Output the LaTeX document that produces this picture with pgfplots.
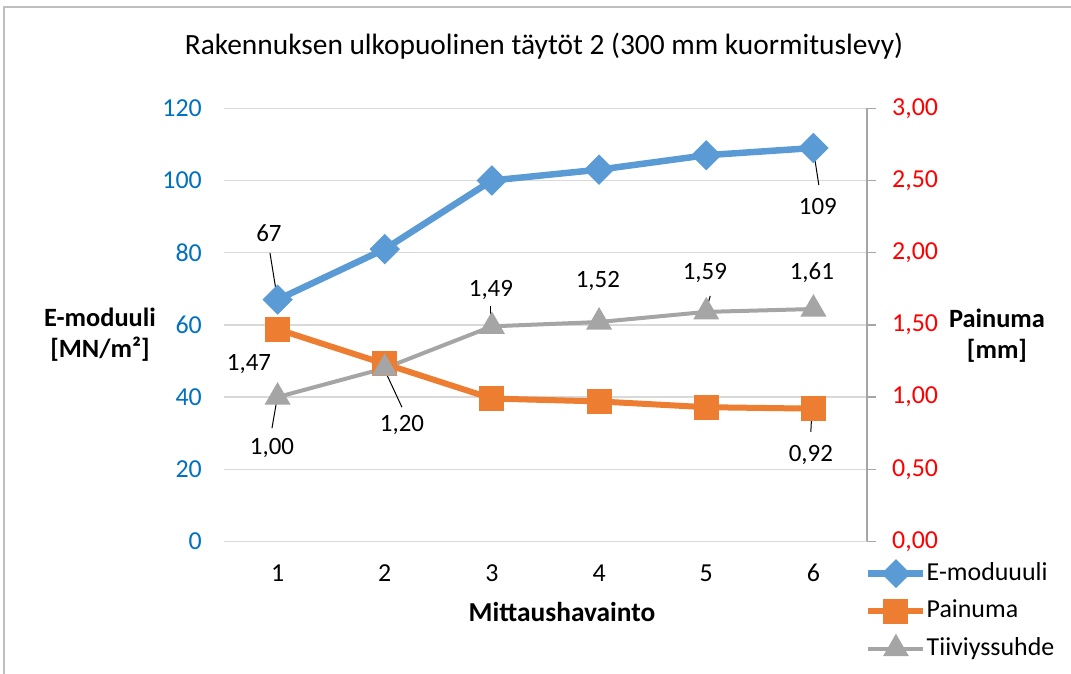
\documentclass[border=0pt]{standalone}
\usepackage{fontspec}
\setmainfont{Carlito}
\usepackage{pgfplots}
\pgfplotsset{compat=1.18}
\definecolor{cblue}{HTML}{5B9BD5}
\definecolor{corange}{HTML}{ED7D31}
\definecolor{cgray}{HTML}{A5A5A5}
\definecolor{tblue}{HTML}{0070C0}
\definecolor{gridc}{HTML}{D9D9D9}
\definecolor{axc}{HTML}{A6A6A6}
\definecolor{borderc}{HTML}{BFBFBF}
\begin{document}
\fontsize{24}{29}\selectfont
\begin{tikzpicture}[x=1bp,y=1bp, lbl/.style={font=\fontsize{25}{30}\selectfont, inner sep=0pt, text=black}]
\useasboundingbox (-224,-132.5) rectangle (847,541.5);
\draw[borderc, line width=1.2bp] (-220,-132.5) -- (-220,534.5) -- (847,534.5);
\begin{axis}[
  scale only axis, width=643bp, height=433.2bp, at={(0,0)}, anchor=south west,
  xmin=0.5, xmax=6.5, ymin=0, ymax=120,
  xtick={1,...,6}, ytick={0,20,...,120},
  axis line style={draw=none}, major tick length=0pt,
  ymajorgrids, grid style={gridc, line width=1.3bp},
  tick label style={font=\fontsize{26}{31}\selectfont, inner sep=0pt},
  yticklabel style={text=tblue, anchor=east, xshift=-22bp},
  xticklabel style={anchor=center, yshift=-31.5bp},
  /pgf/number format/assume math mode=true,
  clip=false,
]
\addplot[cblue, line width=6.5bp, mark=square*, mark size=7.5bp, mark options={rotate=45, solid}] coordinates {(1,67)(2,81)(3,100)(4,103)(5,107)(6,109)};
\draw[black, line width=1bp] (axis cs:1,67) ++(-1.6bp,9.6bp) -- ++(-6bp,37bp);
\node[lbl, xshift=-8.6bp, yshift=66.6bp] at (axis cs:1,67) {67};
\draw[black, line width=1bp] (axis cs:6,109) ++(0bp,-2bp) -- ++(5.4bp,-35bp);
\node[lbl, xshift=4.4bp, yshift=-59bp] at (axis cs:6,109) {109};
\end{axis}
\begin{axis}[
  scale only axis, width=643bp, height=433.2bp, at={(0,0)}, anchor=south west,
  xmin=0.5, xmax=6.5, ymin=0, ymax=3,
  axis x line=none,
  axis y line*=right,
  ytick={0,0.5,...,3},
  y axis line style={axc, line width=1.3bp},
  ytick style={axc, line width=1.3bp},
  tick align=outside, major tick length=9bp,
  tick label style={font=\fontsize{26}{31}\selectfont, inner sep=0pt},
  yticklabel style={text=red, anchor=west, xshift=16bp, /pgf/number format/.cd, fixed, fixed zerofill, precision=2, use comma},
  /pgf/number format/assume math mode=true,
  clip=false,
  legend style={at={(1,0)}, anchor=north west, xshift=-2bp, yshift=-20.5bp, draw=none, fill=none,
    font=\fontsize{26}{31}\selectfont, row sep=14.5bp, inner sep=0pt,
    nodes={inner sep=0pt, text height=18bp, text depth=5bp}, cells={anchor=west},
    /tikz/every odd column/.append style={column sep=0bp}},
  legend image code/.code={\draw[mark repeat=2,mark phase=2] plot coordinates {(0bp,0bp) (27.5bp,0bp) (55bp,0bp)};},
]
\addlegendimage{cblue, line width=6.5bp, mark=square*, mark size=7bp, mark options={rotate=45, solid}}
\addlegendentry{E-moduuuli}
\addplot[corange, line width=6bp, mark=square*, mark size=9.5bp, mark options={solid}] coordinates {(1,1.47)(2,1.23)(3,0.99)(4,0.97)(5,0.93)(6,0.92)};
\addlegendentry{Painuma}
\addplot[cgray, line width=4bp, mark=triangle*, mark size=11bp, mark options={solid}] coordinates {(1,1.00)(2,1.20)(3,1.49)(4,1.52)(5,1.59)(6,1.61)};
\addlegendentry{Tiiviyssuhde}
% Painuma labels
\node[lbl, xshift=-28.6bp, yshift=-34.8bp] at (axis cs:1,1.47) {1,47};
\draw[black, line width=1bp] (axis cs:6,0.92) ++(-1.6bp,-3.3bp) -- ++(-1bp,-20bp);
\node[lbl, xshift=-2.6bp, yshift=-46.3bp] at (axis cs:6,0.92) {0,92};
% Tiiviyssuhde labels
\draw[black, line width=1bp] (axis cs:1,1.00) ++(-0.6bp,-2bp) -- ++(-5bp,-29bp);
\node[lbl, xshift=-5.6bp, yshift=-50.9bp] at (axis cs:1,1.00) {1,00};
\draw[black, line width=1bp] (axis cs:2,1.20) ++(0bp,-2bp) -- ++(17.2bp,-37bp);
\node[lbl, xshift=17.2bp, yshift=-56.8bp] at (axis cs:2,1.20) {1,20};
\draw[black, line width=1bp] (axis cs:3,1.49) ++(-1bp,3bp) -- ++(0bp,17bp);
\node[lbl, xshift=-1bp, yshift=36.3bp] at (axis cs:3,1.49) {1,49};
\node[lbl, xshift=-1.2bp, yshift=41bp] at (axis cs:4,1.52) {1,52};
\draw[black, line width=1bp] (axis cs:5,1.59) ++(0bp,2bp) -- ++(4bp,14bp);
\node[lbl, xshift=-1.4bp, yshift=38.9bp] at (axis cs:5,1.59) {1,59};
\draw[black, line width=1bp] (axis cs:6,1.61) ++(0bp,1bp) -- ++(0bp,13bp);
\node[lbl, xshift=-1.6bp, yshift=36bp] at (axis cs:6,1.61) {1,61};
\end{axis}
\node[lbl, font=\fontsize{29.5}{35}\selectfont] at (320,495.5) {Rakennuksen ulkopuolinen täytöt 2 (300 mm kuormituslevy)};
\node[lbl, font=\fontsize{26.5}{31}\selectfont\bfseries, align=center] at (-124,207) {E-moduuli\\{[MN/m²]}};
\node[lbl, font=\fontsize{26.5}{31}\selectfont\bfseries, align=center] at (773,206) {Painuma\\{[mm]}};
\node[lbl, font=\fontsize{27.5}{32}\selectfont\bfseries] at (338,-70.5) {Mittaushavainto};
\end{tikzpicture}
\end{document}
